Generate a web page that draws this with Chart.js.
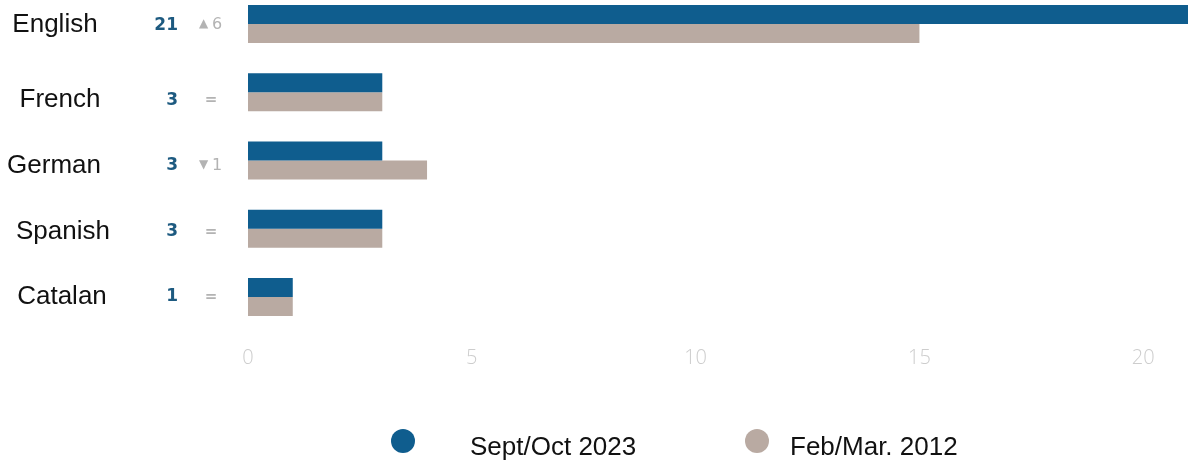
<!DOCTYPE html>
<html>
<head>
<meta charset="utf-8">
<script src="https://cdn.jsdelivr.net/npm/chart.js@4.4.1/dist/chart.umd.min.js"></script>
<style>
  html, body { margin: 0; padding: 0; background: #ffffff; overflow: hidden; }
  #wrap { position: absolute; left: 0; top: -10px; width: 1192px; height: 476px; }
</style>
</head>
<body>
<div id="wrap"><canvas id="chart"></canvas></div>
<script>
// Languages and counts for the two survey rounds
const languages = ['English', 'French', 'German', 'Spanish', 'Catalan'];
const sept2023 = [21, 3, 3, 3, 1];
const feb2012 = [15, 3, 4, 3, 1];
const seriesNames = ['Sept/Oct 2023', 'Feb/Mar. 2012'];
const axisTicks = [0, 5, 10, 15, 20];

const BLUE = '#0f5d8e';
const TAUPE = '#b9aaa2';

// Row labels, current value and change versus the earlier round, plus the legend
const sideLabels = {
  id: 'sideLabels',
  afterDraw(chart) {
    const { ctx } = chart;
    const y = chart.scales.y;
    const nudgeY = [1, 8, 5, 3, 0];
    const nameX = [55, 60, 54, 63, 62];
    ctx.save();
    languages.forEach((name, i) => {
      const cy = y.getPixelForValue(i) + nudgeY[i];
      ctx.textBaseline = 'middle';
      ctx.fillStyle = '#111111';
      ctx.font = '26px "Liberation Sans", Arial, sans-serif';
      ctx.textAlign = 'center';
      ctx.fillText(name, nameX[i], cy);

      ctx.fillStyle = '#1d5a80';
      ctx.font = 'bold 17px "DejaVu Sans", sans-serif';
      ctx.textAlign = 'right';
      ctx.fillText(String(sept2023[i]), 178, cy);

      const diff = sept2023[i] - feb2012[i];
      ctx.fillStyle = '#b3b3b3';
      if (diff === 0) {
        ctx.font = 'bold 15px "DejaVu Sans", sans-serif';
        ctx.textAlign = 'center';
        ctx.fillText('=', 211, cy);
      } else {
        ctx.font = '12px "DejaVu Sans", sans-serif';
        ctx.textAlign = 'left';
        ctx.fillText(diff > 0 ? '\u25B2' : '\u25BC', 199, cy - 1);
        ctx.font = '16px "DejaVu Sans", sans-serif';
        ctx.fillText(String(Math.abs(diff)), 212, cy);
      }
    });

    // legend
    const items = [
      { cx: 403, tx: 470, color: BLUE, label: seriesNames[0] },
      { cx: 757, tx: 790, color: TAUPE, label: seriesNames[1] }
    ];
    const ly = 451;
    items.forEach(it => {
      ctx.beginPath();
      ctx.fillStyle = it.color;
      ctx.arc(it.cx, ly, 12, 0, Math.PI * 2);
      ctx.fill();
      ctx.fillStyle = '#111111';
      ctx.font = '26px "Liberation Sans", Arial, sans-serif';
      ctx.textAlign = 'left';
      ctx.textBaseline = 'middle';
      ctx.fillText(it.label, it.tx, ly + 7);
    });
    ctx.restore();
  }
};

new Chart(document.getElementById('chart'), {
  type: 'bar',
  data: {
    labels: languages,
    datasets: [
      { label: seriesNames[0], data: sept2023, backgroundColor: BLUE },
      { label: seriesNames[1], data: feb2012, backgroundColor: TAUPE }
    ]
  },
  options: {
    indexAxis: 'y',
    responsive: true,
    maintainAspectRatio: false,
    animation: false,
    categoryPercentage: 0.557,
    barPercentage: 1.0,
    layout: { padding: { top: 0, right: 4, bottom: 0, left: 0 } },
    plugins: { legend: { display: false }, tooltip: { enabled: false } },
    scales: {
      x: {
        min: 0,
        max: 21,
        grid: { display: false, drawTicks: false },
        border: { display: false },
        ticks: {
          color: '#cdcdcd',
          font: { family: '"Open Sans", sans-serif', size: 20, weight: '300' },
          padding: 15
        },
        afterBuildTicks(scale) {
          scale.ticks = axisTicks.map(v => ({ value: v }));
        },
        afterFit(scale) { scale.height = 135; }
      },
      y: {
        grid: { display: false, drawTicks: false },
        border: { display: false },
        ticks: { display: false },
        afterFit(scale) { scale.width = 248; }
      }
    }
  },
  plugins: [sideLabels]
});
</script>
</body>
</html>
